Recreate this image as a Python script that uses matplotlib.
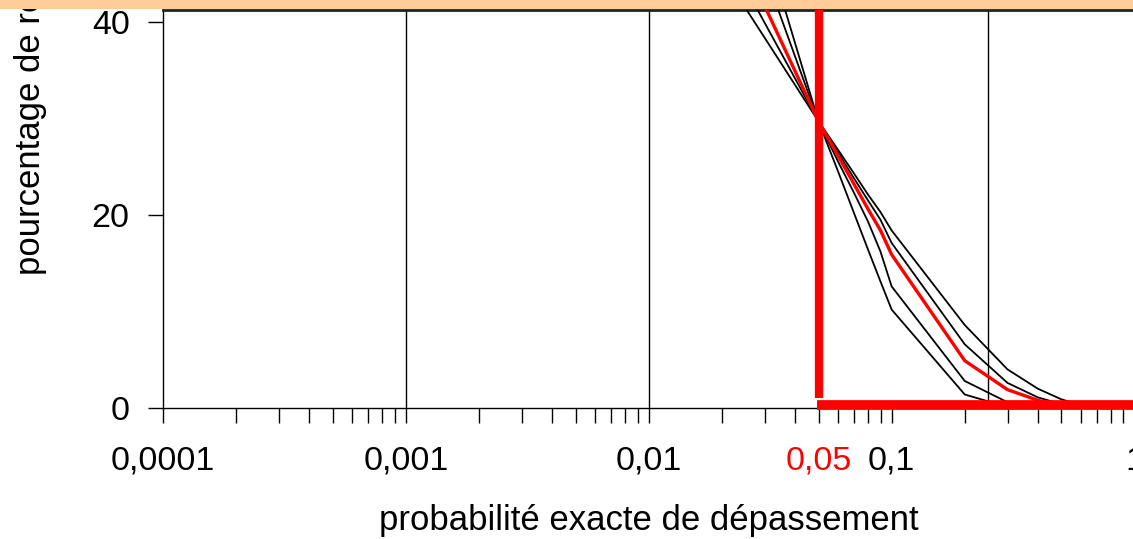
import matplotlib.pyplot as plt
from matplotlib.patches import Rectangle
from matplotlib.ticker import FixedLocator, LogLocator, NullFormatter

plt.rcParams['font.family'] = ['Liberation Sans', 'DejaVu Sans']

# probabilité exacte (abscisse) et pourcentages
p_exact = [0.01, 0.05, 0.06, 0.07, 0.08, 0.09, 0.1, 0.2, 0.3, 0.4, 0.5, 0.6, 0.7, 0.8, 0.9, 1.0]
curve_a = [57.0, 29.7, 26.8, 24.3, 22.1, 20.3, 18.4, 8.6, 4.0, 2.0, 0.9, 0.3, 0, 0, 0, 0]
curve_b = [61.9, 29.7, 26.5, 23.8, 21.5, 19.5, 17.1, 6.6, 2.6, 1.1, 0.4, 0, 0, 0, 0, 0]
curve_red = [67.4, 29.7, 26.2, 23.2, 20.6, 18.4, 15.9, 4.9, 1.9, 0.8, 0.2, 0, 0, 0, 0, 0]
curve_d = [78.4, 29.7, 25.6, 22.3, 19.3, 16.2, 12.6, 2.8, 0.6, 0, 0, 0, 0, 0, 0, 0]
curve_e = [88.4, 29.7, 24.6, 20.2, 16.4, 13.1, 10.2, 1.4, 0.1, 0, 0, 0, 0, 0, 0, 0]

alpha = 0.05
grid_x = [0.001, 0.01, 0.25]
x_ticks = [0.0001, 0.001, 0.01, 0.05, 0.1, 1]
x_labels = ['0,0001', '0,001', '0,01', '0,05', '0,1', '1']
y_ticks = [0, 20, 40]

fig = plt.figure(figsize=(11.33, 5.39), dpi=100)
ax = fig.add_axes([163 / 1133, 1 - 408 / 539, (1134.5 - 163) / 1133, 398 / 539])
ax.set_xscale('log')
ax.set_xlim(1e-4, 1)
ax.set_ylim(0, 41.24)

for gx in grid_x:
    ax.axvline(gx, color='black', lw=1.0, zorder=1)

for c in [curve_a, curve_b, curve_d, curve_e]:
    ax.plot(p_exact, c, color='black', lw=1.3, zorder=3)
ax.plot(p_exact, curve_red, color='red', lw=2.4, zorder=4)

# seuil 5 %
ax.plot([alpha, alpha], [1.0, 45], color='red', lw=6, solid_capstyle='butt', zorder=5)
ax.plot([alpha * 0.99, 1], [0.35, 0.35], color='red', lw=7, solid_capstyle='butt', zorder=5, clip_on=False)

ax.xaxis.set_major_locator(FixedLocator(x_ticks))
ax.set_xticklabels(x_labels)
ax.xaxis.set_minor_locator(LogLocator(base=10, subs=range(2, 10)))
ax.xaxis.set_minor_formatter(NullFormatter())
ax.set_yticks(y_ticks)

ax.tick_params(axis='both', which='both', direction='out', length=11, width=1.0, colors='black', labelsize=24.5)
ax.tick_params(axis='x', which='both', pad=16)
ax.tick_params(axis='y', pad=13)
ax.get_xticklabels()[3].set_color('red')

for side in ['left', 'bottom']:
    ax.spines[side].set_linewidth(1.0)
ax.spines['right'].set_visible(False)
ax.spines['top'].set_color('#222222')
ax.spines['top'].set_linewidth(2)

ax.set_xlabel('probabilité exacte de dépassement', fontsize=25, labelpad=20)

fig.text(31 / 1133, 1 - 275 / 539, 'pourcentage de rejets', rotation=90,
         ha='center', va='bottom', fontsize=25)

band = Rectangle((0, 1 - 9 / 539), 1, 9 / 539, transform=fig.transFigure,
                 facecolor='#FFCC99', edgecolor='none', zorder=10)
fig.patches.append(band)

fig.savefig('out.png', dpi=100)
